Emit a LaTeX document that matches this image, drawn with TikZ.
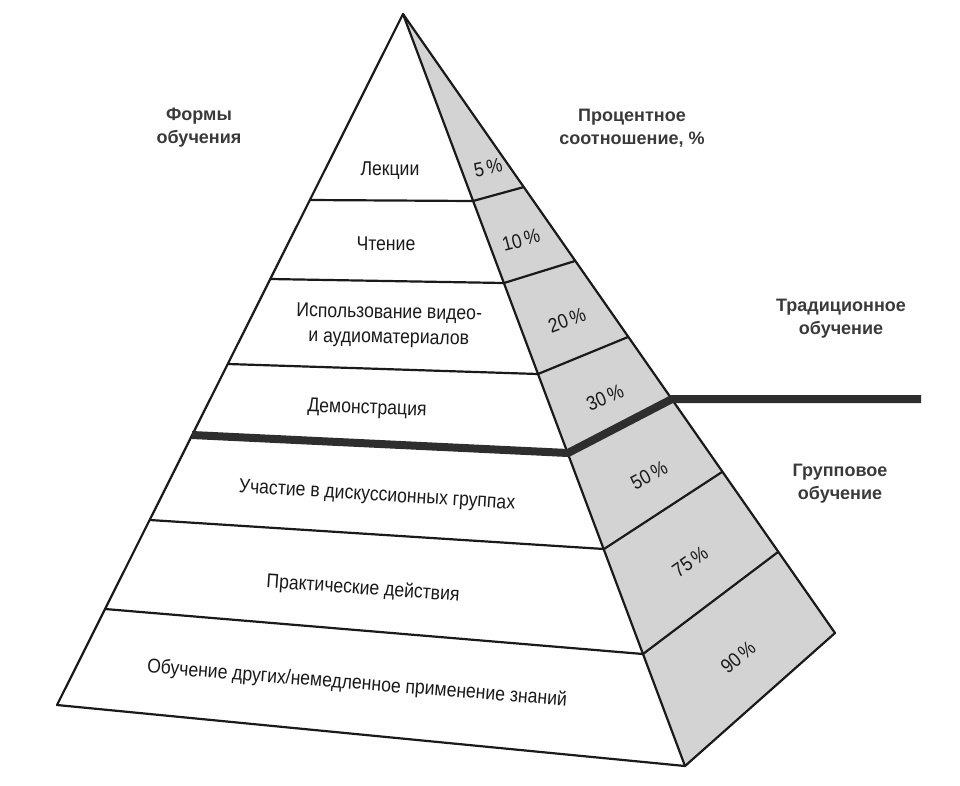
\documentclass[tikz,border=0pt]{standalone}
\usepackage{fontspec}
\setmainfont{Liberation Sans}
\newfontfamily\narrowfont[FakeStretch=0.88]{Liberation Sans}
\definecolor{sidegray}{HTML}{D3D3D3}
\definecolor{ink}{HTML}{1A1A1A}
\definecolor{thickc}{HTML}{2E2E2E}
\definecolor{headc}{HTML}{3A3A3A}
\newcommand{\pc}[1]{#1\kern3pt\%}
\begin{document}
\begin{tikzpicture}[x=1pt,y=-1pt,line join=round,
  edge/.style={draw=ink,line width=2.2pt},
  bar/.style={draw=thickc,line width=8pt,line join=miter},
  lbl/.style={font=\narrowfont\fontsize{20}{25}\selectfont,text=ink,align=center,inner sep=0pt},
  pct/.style={lbl},
  head/.style={font=\bfseries\fontsize{18}{23}\selectfont,text=headc,align=center,inner sep=0pt}]
\useasboundingbox[fill=white] (0,0) rectangle (960,785);
% corners
\coordinate (apex) at (403,14);
\coordinate (bl) at (57,705);
\coordinate (bf) at (685,766);
\coordinate (br) at (835,633);
% divider points: left edge (l), front edge (f), back edge (b)
\coordinate (l1) at (310,200); \coordinate (f1) at (473,201); \coordinate (b1) at (524,187);
\coordinate (l2) at (270,279); \coordinate (f2) at (504,283); \coordinate (b2) at (575,261);
\coordinate (l3) at (228,364); \coordinate (f3) at (538,374); \coordinate (b3) at (628,337);
\coordinate (l4) at (192,435); \coordinate (f4) at (568,453); \coordinate (b4) at (672,399);
\coordinate (l5) at (150,520); \coordinate (f5) at (604,549); \coordinate (b5) at (722,472);
\coordinate (l6) at (105,609); \coordinate (f6) at (643,654); \coordinate (b6) at (778,552);
\coordinate (tend) at (921,399);
% side face
\fill[sidegray] (apex) -- (bf) -- (br) -- cycle;
% dividers
\draw[edge] (l1) -- (f1) -- (b1);
\draw[edge] (l2) -- (f2) -- (b2);
\draw[edge] (l3) -- (f3) -- (b3);
\draw[edge] (l5) -- (f5) -- (b5);
\draw[edge] (l6) -- (f6) -- (b6);
% outline
\draw[edge] (apex) -- (bl) -- (bf) -- (br) -- cycle;
\draw[edge] (apex) -- (bf);
% thick boundary
\draw[bar] (l4) -- (f4) -- (b4) -- (tend);
% front labels
\node[lbl] (lek) at (390,171) {Лекции};
\node[lbl,rotate=-0.5] (cht) at (386,244) {Чтение};
\node[lbl,rotate=-1] (isp) at (389,326) {Использование видео-\\и аудиоматериалов};
\node[lbl,rotate=-2] (dem) at (367,409) {Демонстрация};
\node[lbl,rotate=-3.5] (uch) at (377,496) {Участие в дискуссионных группах};
\node[lbl,rotate=-4] (pra) at (363,589) {Практические действия};
\node[lbl,rotate=-4.5] (obu) at (357,684) {Обучение других/немедленное применение знаний};
% percentages
\node[pct,rotate=12] (p5) at (488,168) {\pc{5}};
\node[pct,rotate=15] (p10) at (521,240) {\pc{10}};
\node[pct,rotate=20] (p20) at (567,320) {\pc{20}};
\node[pct,rotate=23] (p30) at (605,398) {\pc{30}};
\node[pct,rotate=28] (p50) at (649,475) {\pc{50}};
\node[pct,rotate=35] (p75) at (690,562) {\pc{75}};
\node[pct,rotate=40] (p90) at (738,657) {\pc{90}};
% headers
\node[head] (forms) at (199,128) {Формы\\обучения};
\node[head] (proc) at (632,128) {Процентное\\соотношение, \%};
\node[head] (trad) at (841,319) {Традиционное\\обучение};
\node[head] (grp) at (840,484) {Групповое\\обучение};
\end{tikzpicture}
\end{document}
